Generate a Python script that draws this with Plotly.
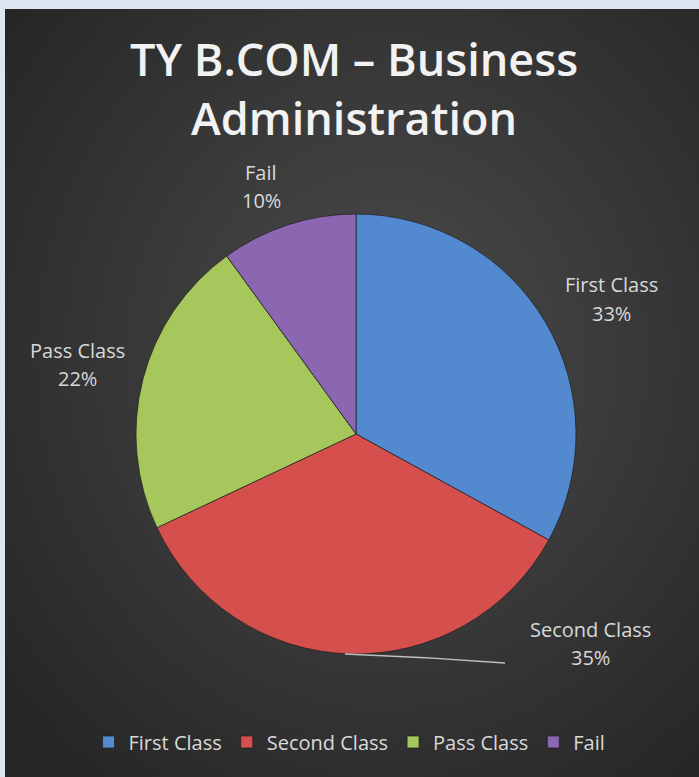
import base64
import plotly.graph_objects as go

W, H = 699, 777

categories = ["First Class", "Second Class", "Pass Class", "Fail"]
values = [33, 35, 22, 10]
colors = ["#5389cf", "#d5504d", "#a5c75b", "#8a67b0"]

# where Excel put each data label (pixel centre of the two-line block)
label_pos = {
    "First Class": (611, 299),
    "Second Class": (590, 643),
    "Pass Class": (77, 364),
    "Fail": (261, 186),
}


def px(x, y):
    return x / W, 1 - y / H


# dark radial background as an svg image
bg_svg = """<svg xmlns='http://www.w3.org/2000/svg' width='694' height='768'>
<defs><radialGradient id='g' cx='0.55' cy='0.45' r='0.72'>
<stop offset='0' stop-color='#4c4c4c'/><stop offset='1' stop-color='#252525'/>
</radialGradient></defs><rect width='694' height='768' fill='url(#g)'/></svg>"""
bg_src = "data:image/svg+xml;base64," + base64.b64encode(bg_svg.encode()).decode()

fig = go.Figure()
fig.add_trace(go.Pie(
    labels=categories,
    values=values,
    sort=False,
    direction="clockwise",
    rotation=0,
    textinfo="none",
    hoverinfo="label+percent",
    marker=dict(colors=colors, line=dict(color="rgba(30,30,30,0.7)", width=1)),
    domain=dict(x=[136 / W, 576 / W], y=[1 - 654 / H, 1 - 214 / H]),
))

total = sum(values)
annotations = []
for cat, v in zip(categories, values):
    cx, cy = label_pos[cat]
    for txt, dy in [(cat, -14), ("{:.0f}%".format(v * 100 / total), 14)]:
        x, y = px(cx, cy + dy)
        annotations.append(dict(
            x=x, y=y, xref="paper", yref="paper", text=txt, showarrow=False,
            xanchor="center", yanchor="middle",
            font=dict(family="Open Sans", size=20, color="#d9d9d9"),
        ))

tx, ty = px(354, 88)
annotations.append(dict(
    x=tx, y=ty, xref="paper", yref="paper",
    text="TY B.COM – Business<br>Administration", showarrow=False,
    xanchor="center", yanchor="middle",
    font=dict(family="Open Sans", size=45, color="#f2f2f2", weight=600),
))

# leader line for the Second Class label
x0, y0 = px(345, 654)
x1, y1 = px(425, 657)
x2, y2 = px(505, 663)
shapes = [dict(
    type="path", xref="paper", yref="paper",
    path="M {} {} Q {} {} {} {}".format(x0, y0, x1, y1, x2, y2),
    line=dict(color="#bfbfbf", width=1.5),
)]

fig.update_layout(
    width=W, height=H,
    margin=dict(l=0, r=0, t=0, b=0),
    paper_bgcolor="#dce6f2",
    plot_bgcolor="#dce6f2",
    images=[dict(
        source=bg_src, xref="paper", yref="paper",
        x=5 / W, y=1 - 9 / H, sizex=1 - 5 / W, sizey=1 - 9 / H,
        xanchor="left", yanchor="top", sizing="stretch", layer="below",
    )],
    annotations=annotations,
    shapes=shapes,
    showlegend=True,
    legend=dict(
        orientation="h", x=0.5, xanchor="center", y=1 - 742 / H, yanchor="middle",
        font=dict(family="Open Sans", size=20, color="#d9d9d9"),
        bgcolor="rgba(0,0,0,0)", itemwidth=30,
    ),
)

fig.write_html(
    "out.html",
    config={"displayModeBar": False},
    post_script="document.body.style.margin='0';document.body.style.overflow='hidden';",
)
